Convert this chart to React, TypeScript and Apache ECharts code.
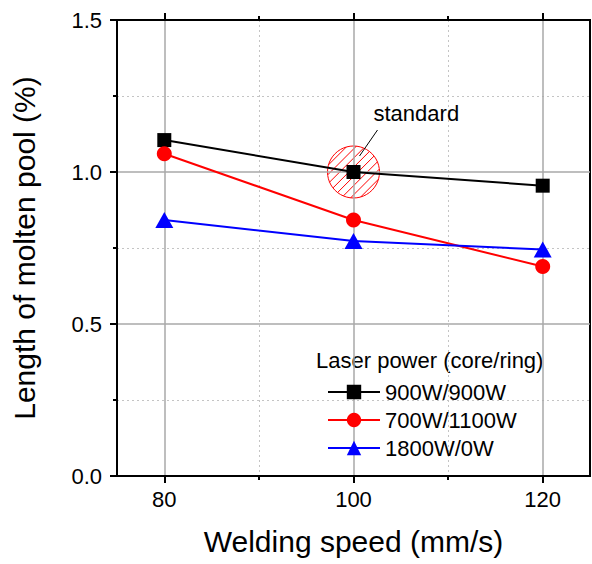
import React, { useEffect, useRef } from "react";
import * as echarts from "echarts";

// ---- data ----
const speeds = [80, 100, 120];
const seriesNames = ["900W/900W", "700W/1100W", "1800W/0W"];
const values900 = [1.105, 1.0, 0.955];
const values700 = [1.06, 0.842, 0.689];
const values1800 = [0.842, 0.773, 0.745];
const xMajorTicks = [80, 100, 120];
const xMinorTicks = [90, 110];
const standardPoint = [100, 1.0];
const standardLabel = "standard";
const legendTitle = "Laser power (core/ring)";
const xTitle = "Welding speed (mm/s)";
const yTitle = "Length of molten pool (%)";

const FONT = "'Liberation Sans', Arial, Helvetica, sans-serif";

const toPairs = (ys: number[]) => speeds.map((x, i) => [x, ys[i]]);

export default function App() {
  const ref = useRef<HTMLDivElement>(null);

  useEffect(() => {
    if (!ref.current) return;
    const chart = echarts.init(ref.current, undefined, { renderer: "svg" });

    const black = "#000000";
    const majorGrid = { show: true, lineStyle: { color: "#a8a8a8", width: 1.5 } };
    const minorGrid = { show: true, lineStyle: { color: "#c4c4c4", width: 1, type: [2, 3] } };

    const baseX = {
      type: "value",
      min: 75,
      max: 125,
    };

    const option: any = {
      animation: false,
      backgroundColor: "#ffffff",
      grid: {
        left: 117,
        top: 20,
        right: 2,
        bottom: 88,
        containLabel: false,
        outerBoundsMode: "none",
        show: true,
        borderColor: black,
        borderWidth: 2,
        backgroundColor: "transparent",
      },
      xAxis: [
        {
          ...baseX,
          position: "bottom",
          z: 3,
          axisLine: { show: true, onZero: false, lineStyle: { color: black, width: 2 } },
          axisTick: { show: true, customValues: xMajorTicks, length: 7, lineStyle: { color: black, width: 2 } },
          axisLabel: { show: true, customValues: xMajorTicks, margin: 12, fontSize: 22, color: black, fontFamily: FONT },
          splitLine: { ...majorGrid },
          name: xTitle,
          nameLocation: "middle",
          nameGap: 50,
          nameTextStyle: { fontSize: 30, color: black, fontFamily: FONT },
        },
        {
          ...baseX,
          position: "bottom",
          axisLine: { show: false, onZero: false },
          axisTick: { show: true, customValues: xMinorTicks, length: 4, lineStyle: { color: black, width: 2 } },
          axisLabel: { show: false, customValues: xMinorTicks },
          splitLine: { ...minorGrid },
        },
        {
          ...baseX,
          position: "top",
          z: 3,
          axisLine: { show: true, onZero: false, lineStyle: { color: black, width: 2 } },
          axisTick: { show: true, customValues: xMajorTicks, length: 7, lineStyle: { color: black, width: 2 } },
          axisLabel: { show: false, customValues: xMajorTicks },
          splitLine: { show: false },
        },
        {
          ...baseX,
          position: "top",
          axisLine: { show: false, onZero: false },
          axisTick: { show: true, customValues: xMinorTicks, length: 4, lineStyle: { color: black, width: 2 } },
          axisLabel: { show: false, customValues: xMinorTicks },
          splitLine: { show: false },
        },
      ],
      yAxis: [
        {
          type: "value",
          position: "left",
          min: 0,
          max: 1.5,
          interval: 0.5,
          z: 3,
          axisLine: { show: true, onZero: false, lineStyle: { color: black, width: 2 } },
          axisTick: { show: true, length: 7, lineStyle: { color: black, width: 2 } },
          minorTick: { show: true, splitNumber: 2, length: 4, lineStyle: { color: black, width: 2 } },
          axisLabel: {
            margin: 15,
            fontSize: 22,
            color: black,
            fontFamily: FONT,
            formatter: (v: number) => v.toFixed(1),
          },
          splitLine: { ...majorGrid, showMinLine: false, showMaxLine: false },
          minorSplitLine: { ...minorGrid },
          name: yTitle,
          nameLocation: "middle",
          nameGap: 78,
          nameTextStyle: { fontSize: 30, color: black, fontFamily: FONT },
        },
      ],
      legend: {
        data: seriesNames,
        orient: "vertical",
        left: 327,
        top: 381,
        padding: 0,
        itemWidth: 52,
        itemHeight: 18,
        itemGap: 6,
        selectedMode: false,
        textStyle: { fontSize: 22, color: black, fontFamily: FONT },
      },
      graphic: [
        {
          type: "text",
          left: 316,
          top: 349,
          style: { text: legendTitle, fontSize: 22, fill: black, fontFamily: FONT },
        },
      ],
      series: [
        {
          type: "custom",
          name: "standardMark",
          xAxisIndex: 0,
          yAxisIndex: 0,
          z: 1,
          silent: true,
          data: [standardPoint],
          renderItem: (params: any, api: any) => {
            const c = api.coord([api.value(0), api.value(1)]);
            const r = 26;
            const children: any[] = [
              {
                type: "circle",
                shape: { cx: c[0], cy: c[1], r },
                style: { fill: "none", stroke: "#ff0000", lineWidth: 1 },
              },
            ];
            const k = Math.SQRT1_2;
            for (let s = -22.75; s <= 22.8; s += 6.5) {
              const h = Math.sqrt(r * r - s * s);
              const mx = c[0] + s * k;
              const my = c[1] + s * k;
              children.push({
                type: "line",
                shape: { x1: mx - h * k, y1: my + h * k, x2: mx + h * k, y2: my - h * k },
                style: { stroke: "#ff0000", lineWidth: 1 },
              });
            }
            children.push({
              type: "line",
              shape: { x1: c[0] + 6, y1: c[1] - 16, x2: c[0] + 24, y2: c[1] - 42 },
              style: { stroke: black, lineWidth: 1 },
            });
            children.push({
              type: "text",
              x: c[0] + 20,
              y: c[1] - 59,
              style: {
                text: standardLabel,
                fontSize: 22,
                fontFamily: FONT,
                fill: black,
                textAlign: "left",
                textVerticalAlign: "middle",
              },
            });
            return { type: "group", children };
          },
        },
        {
          type: "line",
          name: seriesNames[0],
          data: toPairs(values900),
          symbol: "rect",
          symbolSize: 14,
          color: "#000000",
          lineStyle: { color: "#000000", width: 2 },
          itemStyle: { color: "#000000" },
          z: 4,
        },
        {
          type: "line",
          name: seriesNames[1],
          data: toPairs(values700),
          symbol: "circle",
          symbolSize: 15,
          color: "#ff0000",
          lineStyle: { color: "#ff0000", width: 2 },
          itemStyle: { color: "#ff0000" },
          z: 4,
        },
        {
          type: "line",
          name: seriesNames[2],
          data: toPairs(values1800),
          symbol: "triangle",
          symbolSize: [18, 16],
          color: "#0000ff",
          lineStyle: { color: "#0000ff", width: 2 },
          itemStyle: { color: "#0000ff" },
          z: 4,
        },
      ],
    };

    chart.setOption(option);
    return () => {
      chart.dispose();
    };
  }, []);

  return (
    <div
      ref={ref}
      style={{ position: "absolute", left: 0, top: 0, width: 592, height: 564, background: "#fff" }}
    />
  );
}
